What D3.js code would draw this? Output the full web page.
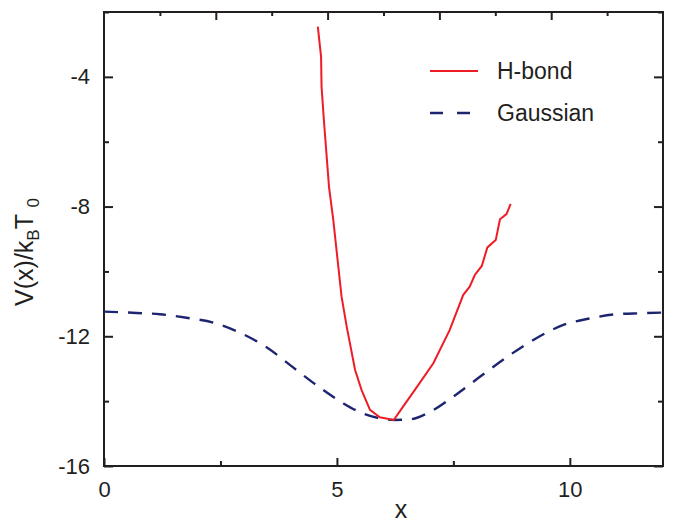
<!DOCTYPE html>
<html>
<head>
<meta charset="utf-8">
<script src="https://cdn.jsdelivr.net/npm/d3@7"></script>
<style>
  body { margin: 0; background: #fff; }
  text { font-family: "Liberation Sans", Arial, sans-serif; fill: #231f20; }
</style>
</head>
<body>
<svg id="chart" width="674" height="524"></svg>
<script>
// H-bond potential
var hbondX = [4.59, 4.66, 4.67, 4.72, 4.83, 4.92, 5.03, 5.10, 5.21, 5.39, 5.53, 5.71, 5.92, 6.22,
              6.42, 6.67, 7.07, 7.42, 7.71, 7.85, 7.96, 8.11, 8.23, 8.41, 8.50, 8.64, 8.73];
var hbondV = [-2.45, -3.38, -4.30, -5.33, -7.39, -8.39, -9.85, -10.78, -11.70, -13.04, -13.66, -14.27, -14.50, -14.58,
              -14.17, -13.66, -12.83, -11.81, -10.73, -10.47, -10.11, -9.83, -9.26, -9.03, -8.39, -8.23, -7.92];

// Gaussian fit
var gaussX = [0, 0.7, 1.2, 1.77, 2.35, 2.92, 3.49, 4.06, 4.64, 5.14, 5.56, 5.92, 6.24, 6.57,
              7.0, 7.5, 8.07, 8.71, 9.28, 9.86, 10.43, 11.0, 11.5, 12];
var gaussV = [-11.24, -11.28, -11.32, -11.43, -11.58, -11.89, -12.34, -12.96, -13.59, -14.07, -14.38, -14.53, -14.58, -14.56,
              -14.33, -13.86, -13.25, -12.58, -12.06, -11.65, -11.45, -11.32, -11.29, -11.27];

var xMajor = [0, 5, 10];
var xMinor = [2.5, 7.5];
var topMajor = [2.4, 4.8, 7.2, 9.6];
var topMinor = [1.2, 3.6, 6.0, 8.4, 10.8];
var yMajor = [-4, -8, -12, -16];
var yMinor = [-2, -6, -10, -14];

var legendNames = ["H-bond", "Gaussian"];

var margin = {left: 104, top: 12, right: 11, bottom: 58},
    width = 674 - margin.left - margin.right,
    height = 524 - margin.top - margin.bottom;

var axisColor = "#231f20";
var red = "#ee1c25", navy = "#1d2570";

var svg = d3.select("#chart");
var g = svg.append("g").attr("transform", "translate(" + margin.left + "," + margin.top + ")");

var x = d3.scaleLinear().domain([0, 12]).range([0, width]);
var y = d3.scaleLinear().domain([-16, -2]).range([height, 0]);

// plain hyphen minus like the original
var plain = function(d) { return String(d); };

// axes - ticks point inward
function styleAxis(sel) {
    sel.select(".domain").remove();
    sel.selectAll("line").attr("stroke", axisColor).attr("stroke-width", 2);
    sel.selectAll("text").style("font-size", "22px").attr("fill", axisColor);
}

g.append("g").attr("transform", "translate(0," + height + ")")
    .call(d3.axisBottom(x).tickValues(xMajor).tickSizeInner(-8).tickSizeOuter(0).tickPadding(15).tickFormat(plain))
    .call(styleAxis);
g.append("g").attr("transform", "translate(0," + height + ")")
    .call(d3.axisBottom(x).tickValues(xMinor).tickSizeInner(-5).tickSizeOuter(0).tickFormat(""))
    .call(styleAxis);

g.append("g")
    .call(d3.axisTop(x).tickValues(topMajor).tickSizeInner(-8).tickSizeOuter(0).tickFormat(""))
    .call(styleAxis);
g.append("g")
    .call(d3.axisTop(x).tickValues(topMinor).tickSizeInner(-4).tickSizeOuter(0).tickFormat(""))
    .call(styleAxis);

g.append("g")
    .call(d3.axisLeft(y).tickValues(yMajor).tickSizeInner(-9).tickSizeOuter(0).tickPadding(14).tickFormat(plain))
    .call(styleAxis);
g.append("g")
    .call(d3.axisLeft(y).tickValues(yMinor).tickSizeInner(-5).tickSizeOuter(0).tickFormat(""))
    .call(styleAxis);

g.append("g").attr("transform", "translate(" + width + ",0)")
    .call(d3.axisRight(y).tickValues(yMajor).tickSizeInner(-9).tickSizeOuter(0).tickFormat(""))
    .call(styleAxis);
g.append("g").attr("transform", "translate(" + width + ",0)")
    .call(d3.axisRight(y).tickValues(yMinor).tickSizeInner(-5).tickSizeOuter(0).tickFormat(""))
    .call(styleAxis);

// frame
g.append("rect")
    .attr("width", width).attr("height", height)
    .attr("fill", "none").attr("stroke", axisColor).attr("stroke-width", 2);

// curves
var gaussLine = d3.line().curve(d3.curveMonotoneX)
    .x(function(d, i) { return x(gaussX[i]); })
    .y(function(d, i) { return y(gaussV[i]); });
g.append("path").datum(gaussV).attr("d", gaussLine)
    .attr("fill", "none").attr("stroke", navy).attr("stroke-width", 2.4)
    .attr("stroke-dasharray", "14,10");

var hbondLine = d3.line()
    .x(function(d, i) { return x(hbondX[i]); })
    .y(function(d, i) { return y(hbondV[i]); });
g.append("path").datum(hbondV).attr("d", hbondLine)
    .attr("fill", "none").attr("stroke", red).attr("stroke-width", 2);

// legend
var legend = svg.append("g");
legend.append("line").attr("x1", 430).attr("x2", 478).attr("y1", 71).attr("y2", 71)
    .attr("stroke", red).attr("stroke-width", 2);
legend.append("line").attr("x1", 430).attr("x2", 478).attr("y1", 113).attr("y2", 113)
    .attr("stroke", navy).attr("stroke-width", 2.4).attr("stroke-dasharray", "13,14");
legend.selectAll("text.leg").data(legendNames).enter().append("text")
    .attr("class", "leg")
    .attr("x", 497)
    .attr("y", function(d, i) { return 79 + i * 42; })
    .style("font-size", "23px")
    .text(function(d) { return d; });

// axis titles
svg.append("text")
    .attr("x", 401).attr("y", 518)
    .attr("text-anchor", "middle")
    .style("font-size", "25px")
    .text("x");

var yt = svg.append("text")
    .attr("transform", "translate(33,252) rotate(-90)")
    .attr("text-anchor", "middle")
    .style("font-size", "25px");
yt.append("tspan").text("V(x)/k");
yt.append("tspan").attr("dy", 6).style("font-size", "17px").text("B");
yt.append("tspan").attr("dy", -6).text("T ");
yt.append("tspan").attr("dy", 6).style("font-size", "17px").text("0");
</script>
</body>
</html>
